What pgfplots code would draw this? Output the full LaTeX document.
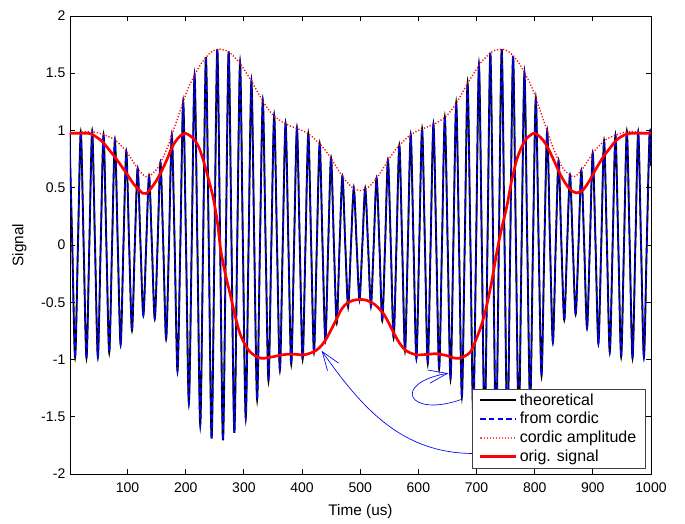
\documentclass[border=0pt]{standalone}
\usepackage{fontspec}
\setmainfont{Liberation Sans}
\usepackage{pgfplots}
\pgfplotsset{compat=1.18}
\usepackage{pgfplotstable}
\usetikzlibrary{arrows.meta}

% carrier: peaks / zero crossings / troughs
\pgfplotstableread{
t y
0 0.976
4.89 0
9.78 -0.98
14.67 0
19.56 0.985
24.45 0
29.34 -0.988
34.23 0
39.12 0.99
44.01 0
48.9 -0.978
53.79 0
58.68 0.962
63.57 0
68.46 -0.94
73.35 0
78.24 0.917
83.13 0
88.02 -0.87
92.91 0
97.8 0.816
102.69 0
107.58 -0.745
112.47 0
117.36 0.668
122.25 0
127.14 -0.615
132.03 0
136.92 0.605
141.81 0
146.7 -0.645
151.59 0
156.48 0.72
161.37 0
166.26 -0.82
171.15 0
176.04 0.96
180.93 0
185.82 -1.10
190.71 0
195.6 1.25
200.49 0
205.38 -1.38
210.27 0
215.16 1.48
220.05 0
224.94 -1.57
229.83 0
234.72 1.64
239.61 0
244.5 -1.69
249.39 0
254.28 1.71
259.17 0
264.06 -1.705
268.95 0
273.84 1.69
278.73 0
283.62 -1.64
288.51 0
293.4 1.59
298.29 0
303.18 -1.51
308.07 0
312.96 1.43
317.85 0
322.74 -1.35
327.63 0
332.52 1.26
337.41 0
342.3 -1.185
347.19 0
352.08 1.13
356.97 0
361.86 -1.09
366.75 0
371.64 1.06
376.53 0
381.42 -1.04
386.31 0
391.2 1.02
396.09 0
400.98 -0.998
405.87 0
410.76 0.97
415.65 0
420.54 -0.935
425.43 0
430.32 0.885
435.21 0
440.1 -0.83
444.99 0
449.88 0.76
454.77 0
459.66 -0.68
464.55 0
469.44 0.60
474.33 0
479.22 -0.54
484.11 0
489.0 0.494
493.89 0
498.78 -0.476
503.67 0
508.56 0.49
513.45 0
518.34 -0.53
523.23 0
528.12 0.585
533.01 0
537.9 -0.66
542.79 0
547.68 0.74
552.57 0
557.46 -0.81
562.35 0
567.24 0.87
572.13 0
577.02 -0.925
581.91 0
586.8 0.962
591.69 0
596.58 -0.99
601.47 0
606.36 1.014
611.25 0
616.14 -1.035
621.03 0
625.92 1.055
630.81 0
635.7 -1.08
640.59 0
645.48 1.115
650.37 0
655.26 -1.17
660.15 0
665.04 1.24
669.93 0
674.82 -1.325
679.71 0
684.6 1.41
689.49 0
694.38 -1.49
699.27 0
704.16 1.57
709.05 0
713.94 -1.63
718.83 0
723.72 1.68
728.61 0
733.5 -1.70
738.39 0
743.28 1.71
748.17 0
753.06 -1.695
757.95 0
762.84 1.65
767.73 0
772.62 -1.585
777.51 0
782.4 1.50
787.29 0
792.18 -1.405
797.07 0
801.96 1.28
806.85 0
811.74 -1.14
816.63 0
821.52 0.995
826.41 0
831.3 -0.85
836.19 0
841.08 0.735
845.97 0
850.86 -0.655
855.75 0
860.64 0.61
865.53 0
870.42 -0.605
875.31 0
880.2 0.65
885.09 0
889.98 -0.725
894.87 0
899.76 0.80
904.65 0
909.54 -0.86
914.43 0
919.32 0.91
924.21 0
929.1 -0.935
933.99 0
938.88 0.958
943.77 0
948.66 -0.975
953.55 0
958.44 0.99
963.33 0
968.22 -0.988
973.11 0
978.0 0.985
982.89 0
987.78 -0.98
992.67 0
997.56 0.976
1000 0.69
}\carrier

\pgfplotstableread{
t y
0 0.976
20 0.985
40 0.99
60 0.96
78 0.918
98 0.816
117 0.67
130 0.60
138 0.605
150 0.66
158 0.73
170 0.87
177 0.976
187 1.12
197 1.27
206 1.39
216 1.49
226 1.58
236 1.646
245 1.69
255 1.71
264 1.705
273 1.69
283 1.645
293 1.59
302 1.52
312 1.44
321 1.36
331 1.27
340 1.20
350 1.136
360 1.095
371 1.06
380 1.04
390 1.02
400 1.00
409 0.976
419 0.94
428 0.894
438 0.84
448 0.77
458 0.69
468 0.61
478 0.545
488 0.496
500 0.475
512 0.496
522 0.545
532 0.61
542 0.69
552 0.77
562 0.84
572 0.894
581 0.94
591 0.976
600 1.00
610 1.02
620 1.04
629 1.06
640 1.095
650 1.136
660 1.20
669 1.27
679 1.36
688 1.44
698 1.52
707 1.59
717 1.645
727 1.69
736 1.705
745 1.71
755 1.69
764 1.646
774 1.58
784 1.49
794 1.39
803 1.27
813 1.12
823 0.976
830 0.87
842 0.73
850 0.66
862 0.605
870 0.60
883 0.67
902 0.816
922 0.918
940 0.96
960 0.99
980 0.985
1000 0.976
}\amplitude

\pgfplotstableread{
t y
0 0.976
20 0.976
36 0.972
50 0.93
59 0.89
70 0.82
78 0.77
98 0.627
110 0.535
117 0.496
126 0.452
132 0.45
138 0.48
148 0.55
158 0.64
168 0.75
177 0.86
188 0.94
199 0.976
213 0.93
222 0.86
230 0.743
240 0.56
248 0.393
255 0.18
260 -0.04
268 -0.25
276 -0.42
285 -0.62
293 -0.77
302 -0.87
310 -0.93
320 -0.97
330 -0.99
340 -0.985
351 -0.975
365 -0.96
379 -0.953
390 -0.955
402 -0.96
414 -0.945
425 -0.918
434 -0.875
442 -0.816
451 -0.73
459 -0.65
468 -0.56
477 -0.51
487 -0.485
500 -0.475
512 -0.485
525 -0.52
540 -0.60
550 -0.69
560 -0.79
568 -0.86
578 -0.92
590 -0.95
600 -0.96
615 -0.955
631 -0.95
648 -0.965
660 -0.985
670 -0.99
680 -0.97
690 -0.93
700 -0.816
709 -0.69
717 -0.54
726 -0.32
735 -0.06
743 0.14
752 0.335
760 0.55
769 0.743
778 0.86
786 0.93
799 0.976
810 0.94
820 0.874
832 0.75
843 0.627
852 0.545
862 0.48
872 0.455
883 0.48
895 0.568
906 0.67
918 0.77
930 0.85
941 0.918
952 0.955
964 0.975
980 0.976
1000 0.976
}\orig

\begin{document}
\begin{tikzpicture}
\begin{axis}[
    scale only axis,
    width=435.75pt, height=343.5pt,
    xmin=1, xmax=1000, ymin=-2, ymax=2,
    xtick={100,200,...,1000},
    ytick={-2,-1.5,...,2},
    tick align=inside, tick pos=both,
    major tick length=3.5pt,
    axis line style={line width=0.7pt},
    every tick/.style={black, line width=0.6pt},
    tick label style={font=\fontsize{10.5}{12}\selectfont},
    xticklabel style={yshift=-3pt},
    label style={font=\fontsize{11.5}{13}\selectfont},
    /pgf/number format/assume math mode=true,
    /pgf/number format/set thousands separator={},
    xlabel={Time (us)},
    ylabel={Signal},
    xlabel style={yshift=-2pt},
    ylabel style={yshift=4pt},
    legend style={at={(0.99,0.012)}, anchor=south east,
        font=\fontsize{12}{13}\selectfont, draw=black!75,
        legend cell align=left, inner xsep=5pt, inner ysep=2pt,
        nodes={inner sep=1.5pt}, row sep=0.9pt},
]
\addplot[black, line width=1.4pt, smooth, forget plot] table[x=t,y=y] {\carrier};
\addplot[blue, line width=1.1pt, smooth, dash pattern=on 4pt off 2.5pt, forget plot] table[x=t,y=y] {\carrier};
\addplot[red, line width=1pt, smooth, dash pattern=on 0.9pt off 1.4pt, forget plot] table[x=t,y=y] {\amplitude};
\addplot[red, line width=2pt, smooth, forget plot] table[x=t,y=y] {\orig};
\addlegendimage{legend image code/.code={\draw[black, line width=1.4pt] (0pt,0pt) -- (27pt,0pt);}}
\addlegendentry{theoretical}
\addlegendimage{legend image code/.code={\draw[blue, line width=1.1pt, dash pattern=on 4pt off 2.5pt] (0pt,0pt) -- (27pt,0pt);}}
\addlegendentry{from cordic}
\addlegendimage{legend image code/.code={\draw[red!70, line width=1pt, dash pattern=on 0.9pt off 1.4pt] (0pt,0pt) -- (27pt,0pt);}}
\addlegendentry{cordic amplitude}
\addlegendimage{legend image code/.code={\draw[red, line width=2pt] (0pt,0pt) -- (27pt,0pt);}}
\addlegendentry{orig. signal}

\draw[blue, line width=0.5pt, -{Straight Barb[length=14pt,width=10pt]}]
    (axis cs:694.4,-1.821) .. controls (axis cs:571.8,-1.818) and (axis cs:504.4,-1.434) .. (axis cs:433.7,-0.924);
\draw[blue, line width=0.5pt, -{Straight Barb[length=14pt,width=10pt]}]
    (axis cs:675.5,-1.346) .. controls (axis cs:581.3,-1.519) and (axis cs:552.9,-1.206) .. (axis cs:651.4,-1.12);
\end{axis}
\path (current axis.south west) ++(-52.5pt,-33pt) coordinate (bl);
\path (current axis.north east) ++(25.5pt,12pt) coordinate (tr);
\path (bl) rectangle (tr);
\end{tikzpicture}
\end{document}
